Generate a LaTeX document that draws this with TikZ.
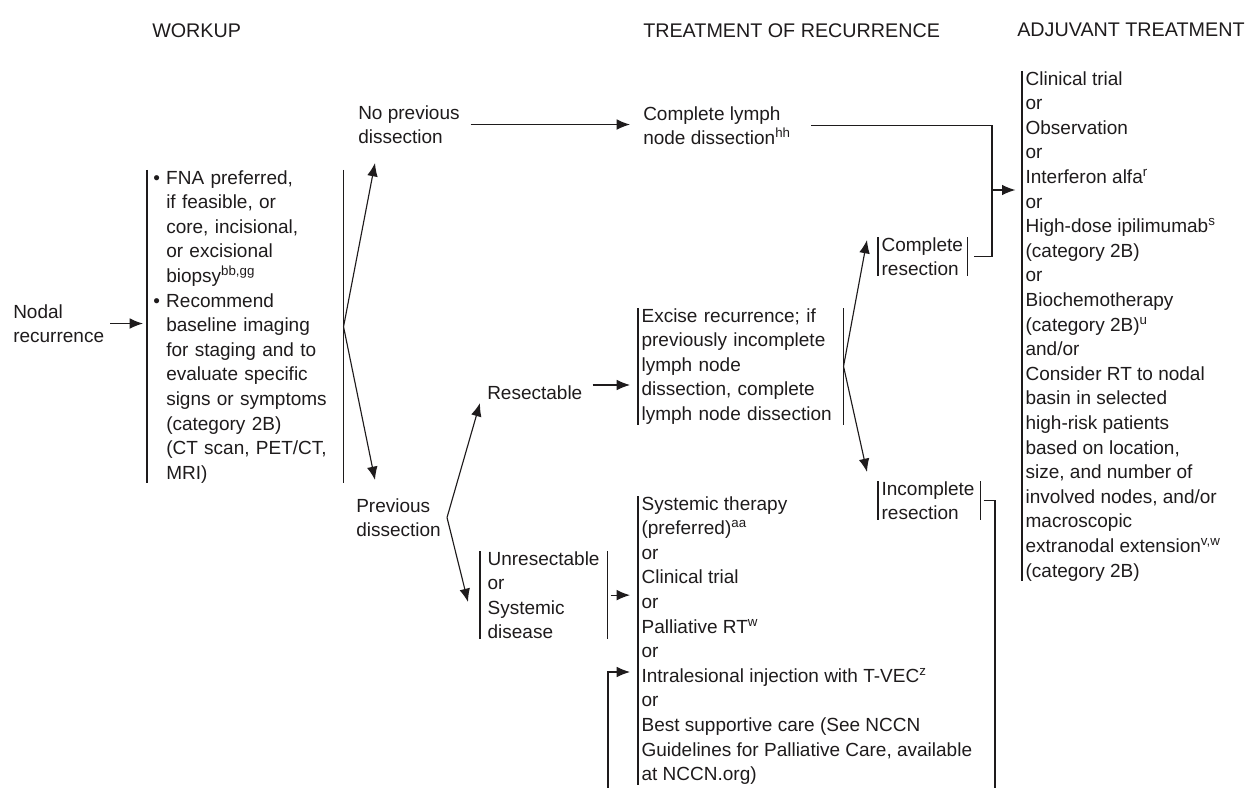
\documentclass[tikz,border=0pt]{standalone}
\usepackage{fontspec}
\setmainfont{Liberation Sans}
\usetikzlibrary{arrows.meta}
\definecolor{ink}{RGB}{30,27,28}
\newcommand{\bulgap}{\phantom{\textbullet\ }}

\begin{document}
\begin{tikzpicture}[x=0.75pt,y=0.75pt,yscale=-1,xscale=1,
  every node/.style={font=\fontsize{14.25pt}{18.45pt}\selectfont,text=ink,inner sep=0pt,anchor=north west},
  barbox/.style={align=left,inner xsep=2.5pt,inner ysep=0pt},
  link/.style={draw=ink,line width=0.85pt},
  arr/.style={link,-{Latex[length=10pt,width=8pt]}}]
\useasboundingbox (0,0) rectangle (1253,788);

% Text Node
\node [font=\fontsize{14.8pt}{18pt}\selectfont] (hwk) at (152,23) {WORKUP};
% Text Node
\node [font=\fontsize{14.8pt}{18pt}\selectfont] (htr) at (643,23) {TREATMENT OF RECURRENCE};
% Text Node
\node [font=\fontsize{14.8pt}{18pt}\selectfont] (hadj) at (1017,23) {ADJUVANT TREATMENT};

% Text Node
\node [align=left] (nodal) at (13,304) {Nodal\\recurrence};
% Text Node
\node [barbox,inner xsep=4.5pt,text width=138pt] (wk) at (147,170) {\textbullet\ FNA preferred,\\\bulgap if feasible, or\\\bulgap core, incisional,\\\bulgap or excisional\\\bulgap biopsy\textsuperscript{bb,gg}\\\textbullet\ Recommend\\\bulgap baseline imaging\\\bulgap for staging and to\\\bulgap evaluate specific\\\bulgap signs or symptoms\\\bulgap (category 2B)\\\bulgap (CT scan, PET/CT,\\\bulgap MRI)};
% Text Node
\node [align=left] (nop) at (358,105) {No previous\\dissection};
% Text Node
\node [align=left,inner xsep=4.5pt] (prev) at (350,498) {Previous\\dissection};
% Text Node
\node (res) at (487,385) {Resectable};
% Text Node
\node [barbox,inner xsep=5.5pt,text width=84.25pt] (un) at (480,551) {Unresectable\\or\\Systemic\\disease};
% Text Node
\node [align=left] (cln) at (643,106) {Complete lymph\\node dissection\textsuperscript{hh}};
% Text Node
\node [barbox,text width=148.75pt] (ex) at (638,308) {Excise recurrence; if\\previously incomplete\\lymph node\\dissection, complete\\lymph node dissection};
% Text Node
\node [barbox] (sys) at (638,496) {Systemic therapy\\(preferred)\textsuperscript{aa}\\or\\Clinical trial\\or\\Palliative RT\textsuperscript{w}\\or\\Intralesional injection with T-VEC\textsuperscript{z}\\or\\Best supportive care (See NCCN\\Guidelines for Palliative Care, available\\at NCCN.org)};
% Text Node
\node [barbox,text width=61.75pt] (cr) at (878,237) {Complete\\resection};
% Text Node
\node [barbox,text width=71.5pt] (ir) at (878,481) {Incomplete\\resection};
% Text Node
\node [barbox] (adj) at (1022,71) {Clinical trial\\or\\Observation\\or\\Interferon alfa\textsuperscript{r}\\or\\High-dose ipilimumab\textsuperscript{s}\\(category 2B)\\or\\Biochemotherapy\\(category 2B)\textsuperscript{u}\\and/or\\Consider RT to nodal\\basin in selected\\high-risk patients\\based on location,\\size, and number of\\involved nodes, and/or\\macroscopic\\extranodal extension\textsuperscript{v,w}\\(category 2B)};

%Bars
\foreach \b in {wk,un,ex,sys,cr,ir,adj}
  \draw [link] (\b.north west) -- (\b.south west);
\foreach \b in {wk,un,ex,cr,ir}
  \draw [link] (\b.north east) -- (\b.south east);

%Arrow tips and bends
\coordinate (nop-tip) at (375,163);
\coordinate (prev-tip) at (375,480);
\coordinate (res-tip) at (480,403);
\coordinate (un-tip) at (468,602);
\coordinate (cr-tip) at (867,240);
\coordinate (ir-tip) at (867,472);
\coordinate (adj-in) at (992,190);
\coordinate (ir-down) at (995,788);
\coordinate (sys-up) at (608,788);
\coordinate (tvec) at (638,672);

%Straight Lines
\draw [arr,shorten <=4.5pt,shorten >=3pt] (nodal.east) -- (nodal.east -| wk.west);
\draw [arr] (wk.east) -- (nop-tip);
\draw [arr] (wk.east) -- (prev-tip);
\draw [arr,shorten <=8pt,shorten >=9.75pt] (nop.east) -- (nop.east -| cln.west);
\draw [arr] (prev.east) -- (res-tip);
\draw [arr] (prev.east) -- (un-tip);
\draw [arr,shorten <=7.5pt,shorten >=6pt] (res.north east) -- (res.north east -| ex.west);
\draw [arr,shorten <=2.25pt,shorten >=6pt] (un.east) -- (un.east -| sys.west);
\draw [arr] (ex.east) -- (cr-tip);
\draw [arr] (ex.east) -- (ir-tip);
%Elbow Lines
\draw [link,shorten <=15pt,shorten >=4.5pt] (cln.east) -| (adj-in) |- (cr.east);
\draw [arr,shorten >=5pt] (adj-in) -- (adj-in -| adj.west);
\draw [link,shorten <=2.25pt] (ir.east) -| (ir-down);
\draw [arr,shorten >=6pt] (sys-up) |- (tvec);

\end{tikzpicture}
\end{document}
